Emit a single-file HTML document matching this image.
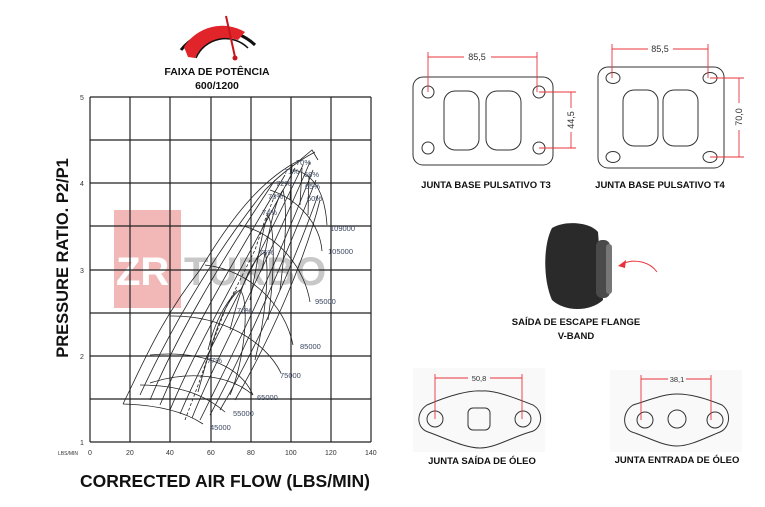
<!DOCTYPE html>
<html><head><meta charset="utf-8"><style>
html,body{margin:0;padding:0;background:#fff;}
svg{display:block;font-family:"Liberation Sans",sans-serif;}
.b{font-weight:bold;fill:#111;}
.g{fill:none;stroke:#222;stroke-width:1.2;}
.c{fill:none;stroke:#222;stroke-width:0.8;}
.l{font-size:7.5px;fill:#3a4660;}
.r{stroke:#e8333a;stroke-width:0.9;fill:none;}
.o{fill:none;stroke:#333;stroke-width:1;}
</style></head><body>
<svg width="765" height="507" viewBox="0 0 765 507">
<!-- gauge -->
<path d="M181,50 A50,50 0 0 1 255,45" stroke="#111" stroke-width="3" fill="none"/>
<path d="M188,57 L184,47 A45,45 0 0 1 245,32 L238,40 A36,36 0 0 0 195,58 Z" fill="#e0242a"/>
<path d="M196,58 A32,32 0 0 1 248,48" stroke="#111" stroke-width="1.5" fill="none"/>
<line x1="226" y1="16" x2="235" y2="57" stroke="#c4161c" stroke-width="2"/>
<circle cx="235" cy="58" r="2.5" fill="#c4161c"/>
<text x="217" y="75" class="b" font-size="10.5" text-anchor="middle">FAIXA DE POTÊNCIA</text>
<text x="217" y="89" class="b" font-size="10.5" text-anchor="middle">600/1200</text>
<!-- watermark -->
<rect x="114" y="210" width="67" height="98" fill="#f2b8b8"/>
<text x="116" y="285" font-size="40" font-weight="bold" fill="#fff">ZR</text>
<text x="184" y="285" font-size="40" font-weight="bold" fill="#c8c8c8">TURBO</text>
<!-- grid -->
<g class="g">
<line x1="90" y1="97" x2="371" y2="97"/><line x1="90" y1="140" x2="371" y2="140"/><line x1="90" y1="183" x2="371" y2="183"/><line x1="90" y1="226" x2="371" y2="226"/><line x1="90" y1="270" x2="371" y2="270"/><line x1="90" y1="313" x2="371" y2="313"/><line x1="90" y1="356" x2="371" y2="356"/><line x1="90" y1="399" x2="371" y2="399"/><line x1="90" y1="442" x2="371" y2="442"/>
<line x1="90" y1="97" x2="90" y2="442"/><line x1="130" y1="97" x2="130" y2="442"/><line x1="170" y1="97" x2="170" y2="442"/><line x1="211" y1="97" x2="211" y2="442"/><line x1="251" y1="97" x2="251" y2="442"/><line x1="291" y1="97" x2="291" y2="442"/><line x1="331" y1="97" x2="331" y2="442"/><line x1="371" y1="97" x2="371" y2="442"/>
</g>
<g font-size="7" fill="#333">
<text x="80" y="100">5</text><text x="80" y="186">4</text><text x="80" y="273">3</text><text x="80" y="359">2</text><text x="80" y="445">1</text>
<text x="58" y="455" font-size="5">LBS/MIN</text>
<text x="88" y="455">0</text><text x="126" y="455">20</text><text x="166" y="455">40</text><text x="207" y="455">60</text><text x="247" y="455">80</text><text x="285" y="455">100</text><text x="325" y="455">120</text><text x="365" y="455">140</text>
</g>
<text transform="translate(68,258) rotate(-90)" class="b" font-size="16.5" text-anchor="middle">PRESSURE RATIO. P2/P1</text>
<text x="225" y="487" class="b" font-size="17.5" text-anchor="middle">CORRECTED AIR FLOW (LBS/MIN)</text>
<!-- map -->
<g class="c">
<path d="M123,404 C140,370 160,320 200,270 C230,220 260,180 300,160 L312,150 L318,160"/>
<path d="M123,404 C160,405 185,412 203,424"/>
<path d="M140,385 C180,385 205,395 225,412"/>
<path d="M150,383 C190,370 230,375 253,395 M150,355 C200,350 240,365 253,395"/>
<path d="M170,316 C220,315 265,340 281,373"/>
<path d="M205,265 C250,270 285,305 293,345"/>
<path d="M240,225 C280,235 305,270 310,302"/>
<path d="M270,190 C300,200 320,225 322,251"/>
<path d="M295,170 C315,175 325,195 327,225"/>
<path d="M140,395 C170,330 210,260 265,190 C285,170 300,160 315,152"/>
<path d="M150,400 C175,340 215,270 275,180"/>
<path d="M160,405 C185,345 225,275 285,175"/>
<path d="M170,410 C195,350 235,280 295,168"/>
<path d="M180,414 C205,355 245,285 303,165"/>
<path d="M192,418 C215,360 255,290 310,162"/>
<path d="M200,420 C230,360 270,280 313,170"/>
<path d="M210,415 C245,350 280,270 316,180"/>
<path d="M220,410 C258,345 295,260 318,195"/>
<path d="M235,400 C270,340 305,260 320,200"/>
<path d="M198,392 C215,330 225,300 240,290 C250,300 245,360 230,395"/>
<path d="M208,350 C215,320 225,305 237,290"/>
<path d="M230,330 C240,290 250,260 265,252 C270,270 265,320 255,360"/>
<path d="M250,300 C258,260 262,230 268,215 C275,230 275,270 268,320"/>
<path d="M262,270 C268,235 275,200 283,190 C288,210 285,250 280,290"/>
<path d="M290,200 L292,165 M300,205 L302,168 M308,215 L309,175"/>
<path d="M185,420 L200,380 L210,350 L225,310 L240,280 L255,250 L265,220 L275,195" stroke-dasharray="3,2"/>
</g>
<g class="l">
<text x="296" y="165">70%</text><text x="284" y="174">71%</text><text x="304" y="177">68%</text><text x="276" y="186">72%</text><text x="305" y="189">65%</text><text x="268" y="199">73%</text><text x="307" y="201">60%</text><text x="262" y="215">74%</text><text x="259" y="255">75%</text><text x="237" y="313">76%</text><text x="207" y="363">77%</text>
<text x="330" y="231">109000</text><text x="328" y="254">105000</text><text x="315" y="304">95000</text><text x="300" y="349">85000</text><text x="280" y="378">75000</text><text x="257" y="400">65000</text><text x="233" y="416">55000</text><text x="210" y="430">45000</text>
</g>
<!-- T3 -->
<rect x="413" y="77" width="140" height="88" rx="10" class="o" stroke-width="1.3"/>
<circle cx="428" cy="92" r="6" class="o"/><circle cx="539" cy="92" r="6" class="o"/><circle cx="428" cy="148" r="6" class="o"/><circle cx="539" cy="148" r="6" class="o"/>
<rect x="444" y="91" width="35" height="59" rx="11" class="o"/><rect x="486" y="91" width="35" height="59" rx="11" class="o"/>
<g class="r"><line x1="428" y1="52" x2="428" y2="92"/><line x1="537" y1="52" x2="537" y2="92"/><line x1="428" y1="57" x2="464" y2="57"/><line x1="491" y1="57" x2="537" y2="57"/>
<line x1="539" y1="92" x2="576" y2="92"/><line x1="539" y1="148" x2="576" y2="148"/><line x1="571" y1="92" x2="571" y2="108"/><line x1="571" y1="132" x2="571" y2="148"/></g>
<text x="477" y="60" font-size="9" text-anchor="middle" fill="#333">85,5</text>
<text transform="translate(574,120) rotate(-90)" font-size="9" text-anchor="middle" fill="#333">44,5</text>
<text x="486" y="188" class="b" font-size="9.5" text-anchor="middle">JUNTA BASE PULSATIVO T3</text>
<!-- T4 -->
<rect x="598" y="67" width="126" height="101" rx="10" class="o" stroke-width="1.3"/>
<ellipse cx="613" cy="78" rx="7" ry="5.5" class="o"/><ellipse cx="710" cy="78" rx="7" ry="5.5" class="o"/><ellipse cx="613" cy="157" rx="7" ry="5.5" class="o"/><ellipse cx="710" cy="157" rx="7" ry="5.5" class="o"/>
<rect x="623" y="90" width="35" height="56" rx="11" class="o"/><rect x="663" y="90" width="35" height="56" rx="11" class="o"/>
<g class="r"><line x1="612" y1="44" x2="612" y2="78"/><line x1="708" y1="44" x2="708" y2="78"/><line x1="612" y1="49" x2="648" y2="49"/><line x1="673" y1="49" x2="708" y2="49"/>
<line x1="710" y1="78" x2="744" y2="78"/><line x1="710" y1="157" x2="744" y2="157"/><line x1="739" y1="78" x2="739" y2="103"/><line x1="739" y1="130" x2="739" y2="157"/></g>
<text x="660" y="52" font-size="9" text-anchor="middle" fill="#333">85,5</text>
<text transform="translate(742,117) rotate(-90)" font-size="9" text-anchor="middle" fill="#333">70,0</text>
<text x="660" y="188" class="b" font-size="9.5" text-anchor="middle">JUNTA BASE PULSATIVO T4</text>
<!-- V-band -->
<path d="M552,228 C565,220 590,222 598,232 L603,300 C590,312 565,312 552,300 C543,280 543,245 552,228 Z" fill="#2a2a2a"/>
<rect x="596" y="240" width="14" height="58" rx="6" fill="#4a4a4a"/>
<rect x="606" y="244" width="6" height="50" rx="3" fill="#777"/>
<path d="M657,272 C650,262 635,258 622,264" class="r" stroke-width="1.2"/>
<path d="M618,266 L626,260 L625,268 Z" fill="#e8333a"/>
<text x="576" y="325" class="b" font-size="9.5" text-anchor="middle">SAÍDA DE ESCAPE FLANGE</text>
<text x="576" y="339" class="b" font-size="9.5" text-anchor="middle">V-BAND</text>
<!-- oil out -->
<rect x="413" y="368" width="132" height="84" fill="#f9f9f9"/>
<path d="M427,405 C450,395 470,390 482,391 C495,390 515,398 533,405 C545,412 542,430 530,432 C510,438 495,448 480,448 C465,448 445,438 428,432 C416,428 416,412 427,405 Z" class="o"/>
<circle cx="435" cy="419" r="8" class="o"/><circle cx="523" cy="419" r="8" class="o"/>
<rect x="468" y="408" width="22" height="22" rx="5" class="o"/>
<g class="r"><line x1="435" y1="374" x2="435" y2="419"/><line x1="522" y1="374" x2="522" y2="419"/><line x1="435" y1="378" x2="468" y2="378"/><line x1="490" y1="378" x2="522" y2="378"/></g>
<text x="479" y="381" font-size="7.5" text-anchor="middle" fill="#333">50,8</text>
<text x="482" y="464" class="b" font-size="9.5" text-anchor="middle">JUNTA SAÍDA DE ÓLEO</text>
<!-- oil in -->
<rect x="610" y="370" width="132" height="82" fill="#f9f9f9"/>
<path d="M633,405 C655,398 665,394 677,394 C690,394 705,398 722,405 C732,412 730,428 720,432 C705,438 690,446 677,446 C663,446 650,438 632,432 C622,428 622,412 633,405 Z" class="o"/>
<circle cx="645" cy="420" r="8" class="o"/><circle cx="715" cy="420" r="8" class="o"/><circle cx="677" cy="419" r="9" class="o"/>
<g class="r"><line x1="641" y1="375" x2="641" y2="420"/><line x1="711" y1="375" x2="711" y2="420"/><line x1="641" y1="379" x2="668" y2="379"/><line x1="686" y1="379" x2="711" y2="379"/></g>
<text x="677" y="382" font-size="7.5" text-anchor="middle" fill="#333">38,1</text>
<text x="677" y="463" class="b" font-size="9.5" text-anchor="middle">JUNTA ENTRADA DE ÓLEO</text>
</svg>
</body></html>
